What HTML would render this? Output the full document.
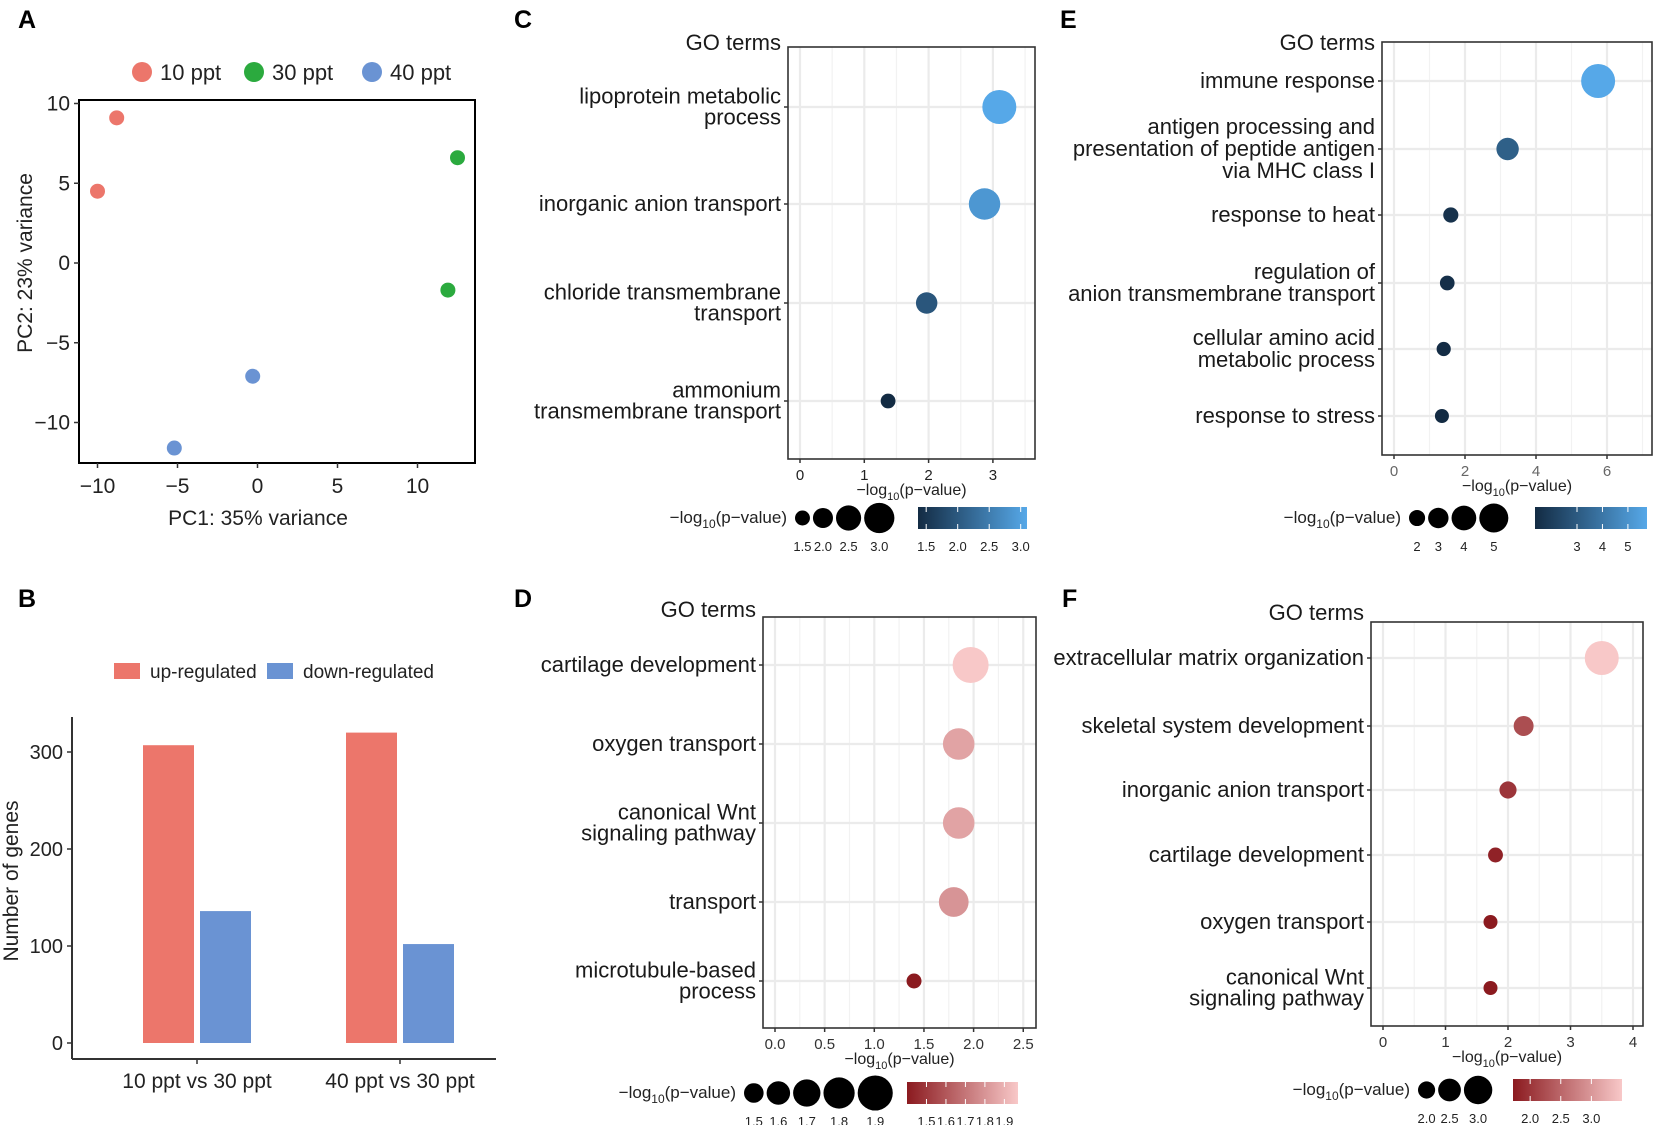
<!DOCTYPE html>
<html><head><meta charset="utf-8"><style>
html,body{margin:0;padding:0;background:#fff}
svg{display:block;font-family:"Liberation Sans",Arial,sans-serif}
</style></head><body>
<svg id="fig" width="1654" height="1125" viewBox="0 0 1654 1125" xmlns="http://www.w3.org/2000/svg"></svg>
<script>
// ---------- Panel A data ----------
const pcaGroups = ["10 ppt","30 ppt","40 ppt"];
const pcaX = [-8.8,-10,12.5,11.9,-0.3,-5.2];
const pcaY = [9.1,4.5,6.6,-1.7,-7.1,-11.6];
const pcaGroupIdx = [0,0,1,1,2,2];
const pcaTicks = [-10,-5,0,5,10];
// ---------- Panel B data ----------
const degCategories = ["10 ppt vs 30 ppt","40 ppt vs 30 ppt"];
const degUp = [307,320];
const degDown = [136,102];
const degTicks = [0,100,200,300];
// ---------- Panel C data ----------
const cTerms = [["lipoprotein metabolic","process"],["inorganic anion transport"],["chloride transmembrane","transport"],["ammonium","transmembrane transport"]];
const cValues = [3.1,2.87,1.97,1.37];
const cTicks = [0,1,2,3];
const cSizeLegend = [1.5,2.0,2.5,3.0];
const cColorLegend = [1.5,2.0,2.5,3.0];
// ---------- Panel D data ----------
const dTerms = [["cartilage development"],["oxygen transport"],["canonical Wnt","signaling pathway"],["transport"],["microtubule-based","process"]];
const dValues = [1.97,1.85,1.85,1.8,1.4];
const dTicks = [0,0.5,1,1.5,2,2.5];
const dSizeLegend = [1.5,1.6,1.7,1.8,1.9];
const dColorLegend = [1.5,1.6,1.7,1.8,1.9];
// ---------- Panel E data ----------
const eTerms = [["immune response"],["antigen processing and","presentation of peptide antigen","via MHC class I"],["response to heat"],["regulation of","anion transmembrane transport"],["cellular amino acid","metabolic process"],["response to stress"]];
const eValues = [5.75,3.2,1.6,1.5,1.4,1.35];
const eTicks = [0,2,4,6];
const eSizeLegend = [2,3,4,5];
const eColorLegend = [3,4,5];
// ---------- Panel F data ----------
const fTerms = [["extracellular matrix organization"],["skeletal system development"],["inorganic anion transport"],["cartilage development"],["oxygen transport"],["canonical Wnt","signaling pathway"]];
const fValues = [3.5,2.25,2.0,1.8,1.72,1.72];
const fTicks = [0,1,2,3,4];
const fSizeLegend = [2.0,2.5,3.0];
const fColorLegend = [2.0,2.5,3.0];

const NS="http://www.w3.org/2000/svg";
const svg=document.getElementById('fig');
function mk(tag,attrs,parent,txt){const e=document.createElementNS(NS,tag);for(const k in attrs)e.setAttribute(k,attrs[k]);if(txt!==undefined)e.textContent=txt;(parent||svg).appendChild(e);return e;}
function grp(name,parent){const g=mk('g',{},parent);return g;}
function label(txt,x,y,g){const t=mk('text',{x:x,y:y,'font-size':25,'font-weight':'bold',fill:'#000'},g,txt);}
function fmt(v,dec){return (v<0?'\u2212':'')+Math.abs(v).toFixed(dec);}
function hex2rgb(h){return [1,3,5].map(i=>parseInt(h.substr(i,2),16));}
function lerpCol(a,b,t){t=Math.max(0,Math.min(1,t));const A=hex2rgb(a),B=hex2rgb(b);return 'rgb('+A.map((v,i)=>Math.round(v+(B[i]-v)*t)).join(',')+')';}

// ================= Panel A =================
(function(){
 const g=grp('panel-a-pca');
 label('A',18,28,g);
 const cols=['#EC766B','#2BAA3E','#6A93D3'];
 const L=79,R=475,T=100,B=463;
 const sx=v=>257.5+v*16.0, sy=v=>263-v*15.95;
 const box=mk('rect',{x:L,y:T,width:R-L,height:B-T,fill:'none',stroke:'#000','stroke-width':2},g);
 
 pcaTicks.forEach(t=>{
  mk('line',{x1:sx(t),x2:sx(t),y1:B,y2:B+5,stroke:'#333','stroke-width':1.5},g);
  const tx=mk('text',{x:sx(t),y:B+30,'font-size':21,'text-anchor':'middle',fill:'#222'},g,fmt(t,0));
  
  mk('line',{x1:L-5,x2:L,y1:sy(t),y2:sy(t),stroke:'#333','stroke-width':1.5},g);
  const ty=mk('text',{x:L-9,y:sy(t)+7,'font-size':21,'text-anchor':'end',fill:'#222'},g,fmt(t,0));
  
 });
 pcaX.forEach((x,i)=>{const c=mk('circle',{cx:sx(x),cy:sy(pcaY[i]),r:7.5,fill:cols[pcaGroupIdx[i]]},g);});
 const xt=mk('text',{x:258,y:525,'font-size':21,'text-anchor':'middle',fill:'#222'},g,'PC1: 35% variance');
 
 const yt=mk('text',{x:0,y:0,'font-size':21,'text-anchor':'middle',fill:'#222',transform:'translate(32,263) rotate(-90)'},g,'PC2: 23% variance');
 
 const lx=[142,254,372];
 pcaGroups.forEach((n,i)=>{const lg=grp('legend-entry',g);mk('circle',{cx:lx[i],cy:72,r:10,fill:cols[i]},lg);mk('text',{x:lx[i]+18,y:80,'font-size':22,fill:'#222'},lg,n);});
})();

// ================= Panel B =================
(function(){
 const g=grp('panel-b-bars');
 label('B',18,607,g);
 const red='#EC766B',blue='#6A93D3';
 const sy=v=>1043-v*0.97;
 const L=72;
 mk('line',{x1:L,x2:L,y1:717,y2:1059,stroke:'#333','stroke-width':2},g);
 mk('line',{x1:L,x2:496,y1:1059,y2:1059,stroke:'#333','stroke-width':2},g);
 degTicks.forEach(t=>{mk('line',{x1:L-5,x2:L,y1:sy(t),y2:sy(t),stroke:'#333','stroke-width':1.5},g);
  const tl=mk('text',{x:L-9,y:sy(t)+7,'font-size':20,'text-anchor':'end',fill:'#222'},g,String(t));});
 const centers=[197,400];
 degCategories.forEach((c,i)=>{
  const cx=centers[i];
  const r1=mk('rect',{x:cx-54,y:sy(degUp[i]),width:51,height:sy(0)-sy(degUp[i]),fill:red},g);
  const r2=mk('rect',{x:cx+3,y:sy(degDown[i]),width:51,height:sy(0)-sy(degDown[i]),fill:blue},g);
  mk('line',{x1:cx,x2:cx,y1:1059,y2:1064,stroke:'#333','stroke-width':1.5},g);
  const cl=mk('text',{x:cx,y:1088,'font-size':21,'text-anchor':'middle',fill:'#222'},g,c);
 });
 const yt=mk('text',{x:0,y:0,'font-size':21,'text-anchor':'middle',fill:'#222',transform:'translate(18,881) rotate(-90)'},g,'Number of genes');
 
 const l1=grp('legend-entry',g);mk('rect',{x:114,y:663,width:26,height:16,fill:red},l1);mk('text',{x:150,y:678,'font-size':19,fill:'#222'},l1,'up-regulated');
 const l2=grp('legend-entry',g);mk('rect',{x:267,y:663,width:26,height:16,fill:blue},l2);mk('text',{x:303,y:678,'font-size':19,fill:'#222'},l2,'down-regulated');
})();

// ================= Bubble panels =================
function bubble(cfg){
 const g=grp(cfg.name);
 label(cfg.letter,cfg.lx,cfg.ly,g);
 const {L,R,T,B,x0,ppu,cats}=cfg;
 const sx=v=>x0+v*ppu;
 const vmin=Math.min(...cfg.values),vmax=Math.max(...cfg.values);
 const col=v=>lerpCol(cfg.c0,cfg.c1,(v-vmin)/(vmax-vmin));
 const rad=v=>cfg.r0+(v-vmin)*(cfg.r1-cfg.r0)/(vmax-vmin);
 mk('rect',{x:L,y:T,width:R-L,height:B-T,fill:'#fff'},g);
 const step=cfg.ticks[1]-cfg.ticks[0];
 for(let i=-1;i<cfg.ticks.length;i++){const m=cfg.ticks[0]+step*(i+0.5);
  if(sx(m)<R && sx(m)>L) mk('line',{x1:sx(m),x2:sx(m),y1:T,y2:B,stroke:'#f2f2f2','stroke-width':1.2},g);}
 cfg.ticks.forEach(t=>{if(sx(t)<R) mk('line',{x1:sx(t),x2:sx(t),y1:T,y2:B,stroke:'#ebebeb','stroke-width':2.2},g);});
 cats.forEach(y=>mk('line',{x1:L,x2:R,y1:y,y2:y,stroke:'#ebebeb','stroke-width':2.2},g));
 mk('rect',{x:L,y:T,width:R-L,height:B-T,fill:'none',stroke:'#333','stroke-width':1.6},g);
 cfg.ticks.forEach(t=>{mk('line',{x1:sx(t),x2:sx(t),y1:B,y2:B+4,stroke:'#333','stroke-width':1.5},g);
  const tl=mk('text',{x:sx(t),y:B+21,'font-size':15,'text-anchor':'middle',fill:cfg.tickCol},g,t.toFixed(cfg.dec));});
 const xt=mk('text',{x:(L+R)/2,y:B+36,'font-size':16,'text-anchor':'middle',fill:'#222'},g);
 
 mk('tspan',{},xt,'\u2212log');mk('tspan',{'font-size':11,dy:5},xt,'10');mk('tspan',{dy:-5},xt,'(p\u2212value)');
 cfg.terms.forEach((lines,i)=>{
  const y=cats[i];
  mk('line',{x1:L-4,x2:L,y1:y,y2:y,stroke:'#333','stroke-width':1.5},g);
  const n=lines.length, lh=cfg.lh;
  const t=mk('text',{'font-size':22,'text-anchor':'end',fill:'#1a1a1a'},g);
  
  lines.forEach((ln,j)=>mk('tspan',{x:L-7,y:y+7+(j-(n-1)/2)*lh},t,ln));
  const c=mk('circle',{cx:sx(cfg.values[i]),cy:y,r:rad(cfg.values[i]),fill:col(cfg.values[i])},g);
  
 });
 const gt=mk('text',{x:L-7,y:cfg.goY,'font-size':22,'text-anchor':'end',fill:'#1a1a1a'},g,'GO terms');
 
 const lg=grp('size-legend',g);
 const ll=mk('text',{x:cfg.legX,y:cfg.legY+5,'font-size':17,'text-anchor':'end',fill:'#222'},lg);
 mk('tspan',{},ll,'\u2212log');mk('tspan',{'font-size':12,dy:5},ll,'10');mk('tspan',{dy:-5},ll,'(p\u2212value)');
 let x=cfg.legX+8, prev=0;
 cfg.sizeLeg.forEach((v,i)=>{const r=rad(v)*cfg.legScale;x+= (i===0? r : prev+r+3);prev=r;
  const c=mk('circle',{cx:x,cy:cfg.legY,r:r,fill:'#000'},lg);
  mk('text',{x:x,y:cfg.legY+33,'font-size':13,'text-anchor':'middle',fill:'#222'},lg,cfg.legDec?v.toFixed(cfg.legDec):String(v));});
 const cb=grp('color-legend',g);
 const gid='grad'+cfg.letter;
 const defs=mk('defs',{},cb);const lgd=mk('linearGradient',{id:gid,x1:0,x2:1,y1:0,y2:0},defs);
 mk('stop',{offset:0,'stop-color':cfg.c0},lgd);mk('stop',{offset:1,'stop-color':cfg.c1},lgd);
 mk('rect',{x:cfg.cbX0,y:cfg.legY-11,width:cfg.cbX1-cfg.cbX0,height:22,fill:'url(#'+gid+')'},cb);
 const cx=v=>cfg.cbX0+(v-vmin)/(vmax-vmin)*(cfg.cbX1-cfg.cbX0);
 cfg.colLeg.forEach(v=>{mk('line',{x1:cx(v),x2:cx(v),y1:cfg.legY-11,y2:cfg.legY-6,stroke:'#fff','stroke-width':1},cb);
  mk('line',{x1:cx(v),x2:cx(v),y1:cfg.legY+6,y2:cfg.legY+11,stroke:'#fff','stroke-width':1},cb);
  mk('text',{x:cx(v),y:cfg.legY+33,'font-size':13,'text-anchor':'middle',fill:'#222'},cb,cfg.legDec?v.toFixed(cfg.legDec):String(v));});
}
const BLUE0='#132B43',BLUE1='#56A8E8',RED0='#8B1A1F',RED1='#F8C8C8';
bubble({name:'panel-c-go',letter:'C',lx:514,ly:28,L:788,R:1035,T:47,B:459,x0:800,ppu:64.3,cats:[107,204,303,401],
 terms:cTerms,values:cValues,ticks:cTicks,dec:0,c0:BLUE0,c1:BLUE1,r0:7.4,r1:17,lh:21,goY:50,tickCol:'#222',
 legX:787,legY:518,legScale:0.92,sizeLeg:cSizeLegend,colLeg:cColorLegend,legDec:1,cbX0:918,cbX1:1027});
bubble({name:'panel-d-go',letter:'D',lx:514,ly:607,L:763,R:1036,T:617,B:1028,x0:775,ppu:99.3,cats:[665,744,823,902,981],
 terms:dTerms,values:dValues,ticks:dTicks,dec:1,c0:RED0,c1:RED1,r0:7.5,r1:18,lh:21,goY:617,tickCol:'#333',
 legX:736,legY:1093,legScale:1.05,sizeLeg:dSizeLegend,colLeg:dColorLegend,legDec:1,cbX0:907,cbX1:1018});
bubble({name:'panel-e-go',letter:'E',lx:1060,ly:28,L:1382,R:1652,T:42,B:455,x0:1394,ppu:35.5,cats:[81,149,215,283,349,416],
 terms:eTerms,values:eValues,ticks:eTicks,dec:0,c0:BLUE0,c1:BLUE1,r0:7,r1:17,lh:22,goY:50,tickCol:'#666',
 legX:1401,legY:518,legScale:0.95,sizeLeg:eSizeLegend,colLeg:eColorLegend,legDec:0,cbX0:1535,cbX1:1647});
bubble({name:'panel-f-go',letter:'F',lx:1062,ly:607,L:1371,R:1643,T:622,B:1026,x0:1383,ppu:62.5,cats:[658,726,790,855,922,988],
 terms:fTerms,values:fValues,ticks:fTicks,dec:0,c0:RED0,c1:RED1,r0:7,r1:17,lh:21,goY:620,tickCol:'#333',
 legX:1410,legY:1090,legScale:1.0,sizeLeg:fSizeLegend,colLeg:fColorLegend,legDec:1,cbX0:1513,cbX1:1622});
</script>
</body></html>
